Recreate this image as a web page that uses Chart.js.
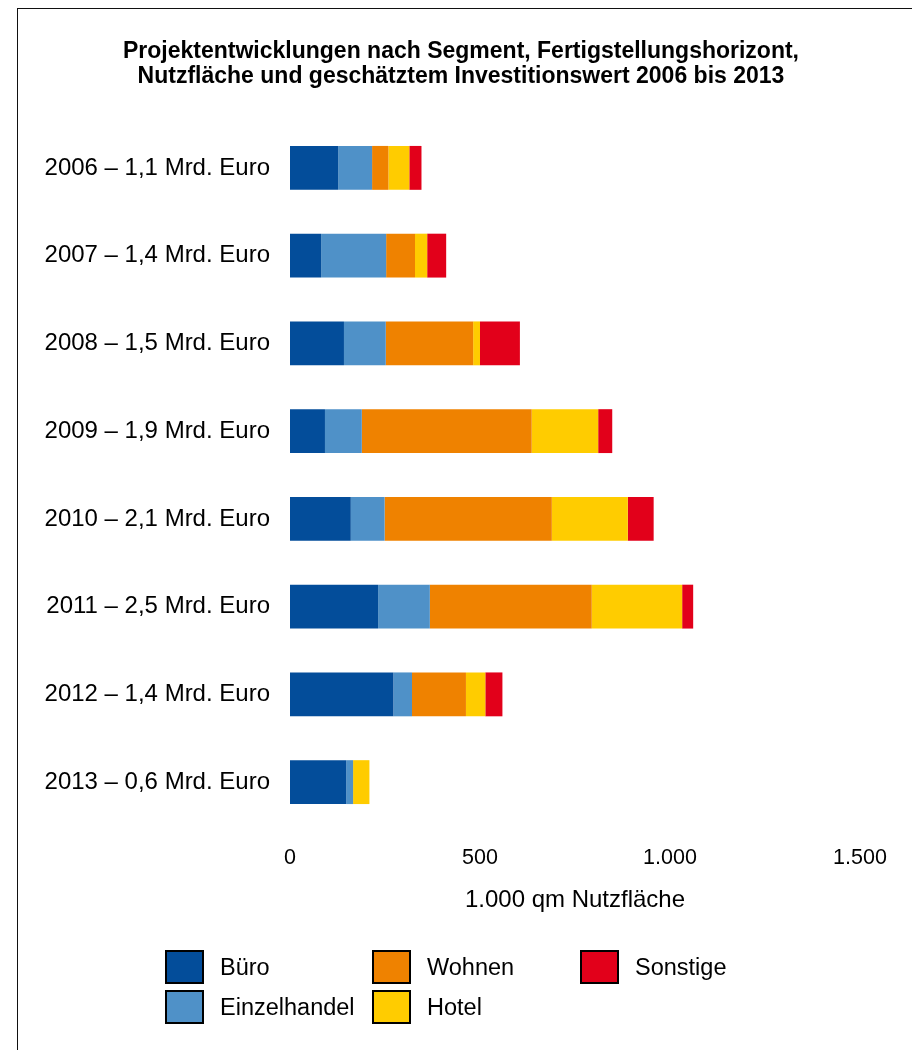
<!DOCTYPE html>
<html>
<head>
<meta charset="utf-8">
<script src="https://cdn.jsdelivr.net/npm/chart.js@4/dist/chart.umd.min.js"></script>
<style>
    body { margin: 0; background: #fff; }
    #wrap { position: relative; width: 912px; height: 1050px; }
    #frame { position: absolute; left: 17px; top: 8px; right: 0; bottom: 0;
        border-left: 1.5px solid #111; border-top: 1.5px solid #111; }
    #title { position: absolute; left: 0; top: 37.5px; width: 912px; padding-left: 10px; box-sizing: border-box;
        text-align: center; font-family: "Liberation Sans", Arial, sans-serif; font-weight: bold;
        font-size: 23px; line-height: 25px; color: #000; }
    #legend { position: absolute; left: 165px; top: 947px; width: 640px;
        display: grid; grid-template-rows: 40px 40px; grid-auto-flow: column;
        grid-template-columns: 207px 208px 200px;
        font-family: "Liberation Sans", Arial, sans-serif; font-size: 23.5px; color: #000; }
    .item { display: flex; align-items: center; }
    .box { width: 35px; height: 30px; border: 2px solid #000; margin-right: 16px; }
</style>
</head>
<body>
<div id="wrap">
    <div id="frame"></div>
    <canvas id="chartSegment" width="912" height="1050"></canvas>
    <div id="title">Projektentwicklungen nach Segment, Fertigstellungshorizont,<br>Nutzfläche und geschätztem Investitionswert 2006 bis 2013</div>
    <div id="legend"></div>
</div>
<script>
const years = [
    '2006 – 1,1 Mrd. Euro',
    '2007 – 1,4 Mrd. Euro',
    '2008 – 1,5 Mrd. Euro',
    '2009 – 1,9 Mrd. Euro',
    '2010 – 2,1 Mrd. Euro',
    '2011 – 2,5 Mrd. Euro',
    '2012 – 1,4 Mrd. Euro',
    '2013 – 0,6 Mrd. Euro'
];

// 1.000 qm Nutzfläche je Segment
const buero = [127, 82, 142, 92, 160, 232, 272, 148];
const einzelhandel = [89, 171, 110, 97, 89, 136, 49, 18];
const wohnen = [43, 76, 230, 447, 440, 426, 142, 0];
const hotel = [55, 32, 18, 175, 200, 238, 51, 43];
const sonstige = [32, 50, 105, 37, 68, 29, 45, 0];

const xTicks = [0, 500, 1000, 1500];

const font = "'Liberation Sans', Arial, sans-serif";

function $id(id) { return document.getElementById(id); }

let segmente = [
    { label: 'Büro', data: buero, color: '#034d9a' },
    { label: 'Einzelhandel', data: einzelhandel, color: '#4f91c8' },
    { label: 'Wohnen', data: wohnen, color: '#ef8200' },
    { label: 'Hotel', data: hotel, color: '#ffcc00' },
    { label: 'Sonstige', data: sonstige, color: '#e2001a' }
];

let chartData = {
    labels: years,
    datasets: segmente.map(function (s) {
        return {
            label: s.label,
            data: s.data,
            backgroundColor: s.color,
            borderWidth: 0,
            barPercentage: 1,
            categoryPercentage: 0.5
        };
    })
};

let chart = new Chart($id('chartSegment'), {
    type: 'bar',
    data: chartData,
    options: {
        indexAxis: 'y',
        responsive: false,
        animation: false,
        locale: 'de-DE',
        layout: { padding: { left: 0, right: 52, top: 124, bottom: 110 } },
        plugins: {
            legend: { display: false },
            tooltip: { enabled: false },
            title: { display: false }
        },
        scales: {
            x: {
                stacked: true,
                min: 0,
                max: 1500,
                afterBuildTicks: function (axis) {
                    axis.ticks = xTicks.map(function (v) { return { value: v }; });
                },
                afterFit: function (axis) { axis.height = 114; },
                grid: { display: false, drawTicks: false },
                border: { display: false },
                ticks: { color: '#000', font: { family: font, size: 21.5 }, padding: 19, maxRotation: 0 },
                title: {
                    display: true,
                    text: '1.000 qm Nutzfläche',
                    color: '#000',
                    font: { family: font, size: 24, lineHeight: 1.2 },
                    padding: { top: 0, bottom: 25 }
                }
            },
            y: {
                stacked: true,
                afterFit: function (axis) { axis.width = 290; },
                grid: { display: false, drawTicks: false },
                border: { display: false },
                ticks: { color: '#000', font: { family: font, size: 24 }, padding: 20 }
            }
        }
    }
});

// Legende, spaltenweise wie im Original
let legend = $id('legend');
chart.data.datasets.forEach(function (ds) {
    let item = document.createElement('div');
    item.className = 'item';
    let box = document.createElement('span');
    box.className = 'box';
    box.style.background = ds.backgroundColor;
    let txt = document.createElement('span');
    txt.textContent = ds.label;
    item.appendChild(box);
    item.appendChild(txt);
    legend.appendChild(item);
});
</script>
</body>
</html>
